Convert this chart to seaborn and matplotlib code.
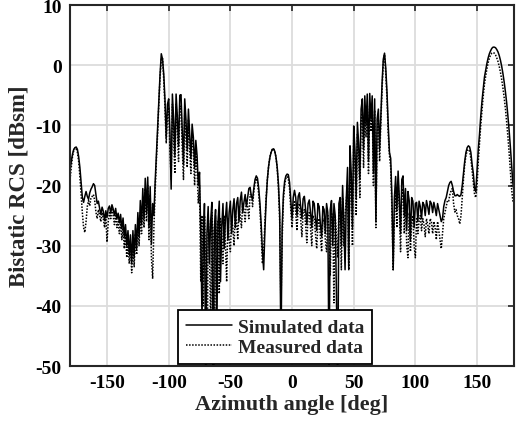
import numpy as np
import pandas as pd
import seaborn as sns
import matplotlib
matplotlib.use('Agg')
import matplotlib.pyplot as plt

# azimuth angle in degrees, 1 deg step
azimuth = list(range(-180, 181))

# simulated bistatic RCS [dBsm]
simulated = [
    -17.5, -16.0, -14.8, -14.0, -13.7, -13.6, -14.0, -15.2, -17.0, -19.5,  # -180
    -22.0, -22.8, -21.8, -21.0, -21.8, -22.3, -21.2, -20.6, -20.2, -19.7,  # -170
    -20.0, -21.5, -23.0, -22.6, -23.8, -24.8, -23.6, -24.3, -25.8, -24.2,  # -160
    -25.3, -23.8, -23.4, -24.6, -23.2, -23.9, -25.0, -23.8, -25.6, -24.6,  # -150
    -26.2, -24.8, -27.2, -25.4, -28.6, -26.5, -30.0, -27.5, -31.5, -28.2,  # -140
    -33.0, -27.5, -32.0, -26.5, -30.5, -24.5, -28.5, -22.5, -26.5, -20.5,  # -130
    -25.5, -18.8, -24.5, -18.6, -27.0, -20.2, -29.7, -23.0, -25.0, -19.5,  # -120
    -15.0, -10.5, -5.6, -1.5, 1.9, 1.0, -1.5, -5.8, -12.0, -6.5,           # -110
    -5.6, -11.0, -20.6, -4.8, -9.0, -15.0, -4.8, -8.5, -13.5, -5.0,        # -100
    -4.9, -11.0, -16.5, -5.6, -9.0, -14.0, -7.3, -11.5, -15.5, -9.8,       # -90
    -12.0, -17.0, -12.5, -15.0, -20.0, -17.8, -28.0, -42.0, -30.0, -23.0,  # -80
    -55.0, -28.0, -23.5, -33.0, -26.0, -22.8, -58.0, -27.5, -24.0, -45.0,  # -70
    -26.0, -22.6, -36.0, -27.0, -23.0, -30.5, -25.5, -22.8, -29.0, -24.5,  # -60
    -22.6, -28.0, -24.0, -22.2, -27.0, -23.0, -22.0, -26.0, -22.5, -21.1,  # -50
    -24.5, -22.8, -21.5, -23.5, -22.0, -20.5, -20.3, -21.8, -22.3, -20.5,  # -40
    -19.0, -18.4, -18.8, -20.5, -23.0, -26.5, -31.0, -34.0, -27.5, -22.5,  # -30
    -19.0, -16.8, -15.4, -14.5, -14.0, -13.9, -14.3, -15.3, -17.0, -19.8,  # -20
    -24.5, -48.0, -27.0, -21.5, -19.3, -18.4, -18.1, -18.2, -19.5, -22.5,  # -10
    -25.5, -22.0, -20.8, -22.0, -25.0, -21.8, -21.2, -23.5, -25.5, -22.2,  # 0
    -21.8, -24.0, -26.5, -23.0, -22.4, -24.5, -27.0, -22.6, -23.0, -25.5,  # 10
    -27.5, -23.0, -23.5, -26.5, -28.5, -23.5, -24.0, -28.0, -23.0, -24.5,  # 20
    -52.0, -24.0, -22.5, -30.0, -23.0, -25.0, -38.0, -55.0, -23.0, -22.0,  # 30
    -30.0, -20.0, -26.0, -34.0, -22.2, -17.0, -34.0, -13.4, -18.0, -27.0,  # 40
    -10.1, -14.0, -22.0, -9.5, -13.0, -19.0, -7.3, -5.6, -14.0, -5.1,      # 50
    -10.0, -4.8, -16.0, -4.7, -9.0, -5.1, -18.0, -5.6, -26.0, -9.0,        # 60
    -7.3, -14.0, -8.4, -3.0, 1.0, 2.0, -0.5, -4.5, -10.0, -14.5,           # 70
    -15.5, -22.0, -34.0, -22.0, -18.5, -24.0, -17.6, -22.0, -28.0, -19.0,  # 80
    -18.4, -25.0, -20.5, -27.5, -21.0, -22.5, -29.0, -22.0, -22.6, -27.0,  # 90
    -23.0, -22.8, -26.0, -22.6, -23.5, -25.5, -22.8, -23.2, -25.0, -22.5,  # 100
    -23.5, -24.8, -22.6, -23.0, -24.5, -22.8, -23.8, -25.0, -23.0, -24.0,  # 110
    -25.0, -26.0, -25.5, -23.5, -22.5, -22.0, -21.0, -20.0, -19.5, -19.3,  # 120
    -20.0, -21.0, -21.7, -21.7, -21.5, -21.7, -21.8, -21.5, -20.0, -18.0,  # 130
    -16.0, -14.5, -13.7, -13.4, -13.6, -14.5, -16.5, -18.0, -20.5, -21.0,  # 140
    -17.5, -14.0, -11.5, -8.5, -6.0, -4.0, -2.0, -0.8, 0.3, 1.2,           # 150
    1.9, 2.4, 2.8, 3.0, 3.0, 2.9, 2.6, 2.2, 1.6, 0.8,                      # 160
    -0.2, -1.4, -2.8, -4.4, -6.2, -8.4, -10.8, -13.5, -16.5, -19.5,        # 170
    -21.0,                                                                 # 180
]

# measured bistatic RCS [dBsm]
measured = [
    -19.0, -17.0, -15.2, -14.2, -13.8, -13.8, -14.5, -16.0, -18.5, -21.5,  # -180
    -24.5, -27.0, -27.8, -26.0, -23.5, -22.5, -23.4, -22.0, -21.8, -21.5,  # -170
    -22.5, -24.4, -25.5, -24.0, -25.0, -26.0, -24.5, -25.5, -27.0, -25.0,  # -160
    -29.4, -26.0, -24.5, -25.5, -24.0, -25.0, -26.5, -25.0, -27.0, -26.0,  # -150
    -28.0, -26.0, -29.0, -27.0, -30.5, -28.0, -32.0, -29.0, -33.0, -30.0,  # -140
    -34.5, -29.0, -33.5, -28.0, -31.5, -26.0, -30.0, -24.5, -28.0, -23.0,  # -130
    -27.0, -20.5, -26.0, -20.0, -29.0, -21.5, -32.0, -35.5, -27.0, -21.0,  # -120
    -16.0, -11.5, -6.5, -2.0, 1.0, 1.2, -2.5, -7.0, -13.0, -8.0,           # -110
    -7.0, -14.0, -19.0, -6.5, -12.0, -18.0, -6.5, -11.0, -16.0, -7.0,      # -100
    -6.8, -14.0, -19.0, -8.0, -12.0, -17.0, -9.0, -14.0, -18.0, -11.5,     # -90
    -14.0, -20.0, -14.5, -17.5, -23.0, -20.0, -36.0, -25.0, -40.0, -25.0,  # -80
    -32.0, -60.0, -25.0, -30.0, -44.0, -24.5, -28.0, -55.0, -25.0, -31.0,  # -70
    -26.0, -38.0, -25.5, -28.0, -33.0, -25.0, -30.0, -36.0, -25.5, -29.0,  # -60
    -31.0, -25.5, -27.0, -30.0, -24.5, -26.0, -29.0, -23.5, -25.0, -27.0,  # -50
    -23.0, -24.0, -26.0, -22.5, -23.5, -25.5, -21.5, -21.5, -23.5, -21.0,  # -40
    -19.5, -18.8, -19.5, -21.5, -24.0, -28.0, -33.0, -31.0, -26.0, -22.0,  # -30
    -19.0, -16.8, -15.3, -14.5, -14.0, -13.9, -14.3, -15.3, -17.2, -20.5,  # -20
    -26.0, -40.0, -29.0, -22.5, -20.0, -18.8, -18.5, -19.0, -20.5, -24.0,  # -10
    -27.0, -24.0, -22.5, -24.5, -27.5, -23.5, -23.0, -25.5, -28.5, -24.5,  # 0
    -24.0, -26.5, -29.5, -25.0, -24.5, -27.0, -30.0, -25.0, -25.5, -28.0,  # 10
    -30.5, -26.4, -25.5, -28.5, -31.0, -25.5, -26.0, -29.0, -31.0, -25.0,  # 20
    -27.0, -35.0, -24.5, -26.0, -39.5, -25.0, -28.0, -32.0, -24.0, -26.0,  # 30
    -34.0, -22.0, -30.0, -25.0, -22.5, -20.0, -34.0, -16.0, -22.0, -30.0,  # 40
    -12.5, -16.0, -25.0, -11.5, -15.0, -22.0, -9.0, -8.0, -17.0, -7.0,     # 50
    -12.0, -6.8, -18.0, -6.5, -11.0, -7.0, -20.0, -7.5, -27.0, -11.0,      # 60
    -9.0, -16.0, -9.5, -4.0, 0.5, 1.8, -1.5, -5.5, -11.5, -15.0,           # 70
    -17.0, -24.0, -34.0, -25.0, -21.0, -27.0, -19.5, -24.0, -31.0, -21.5,  # 80
    -20.5, -28.0, -23.0, -30.0, -32.0, -24.5, -31.0, -26.0, -25.0, -30.0,  # 90
    -32.0, -25.5, -28.0, -26.0, -25.0, -27.5, -25.5, -26.5, -28.5, -25.5,  # 100
    -26.5, -28.0, -25.5, -26.0, -28.0, -26.0, -27.0, -29.0, -26.0, -27.5,  # 110
    -29.0, -30.5, -28.0, -25.5, -24.5, -23.5, -22.5, -22.6, -21.5, -20.8,  # 120
    -20.5, -23.0, -24.4, -24.0, -25.0, -25.5, -26.4, -25.0, -22.0, -19.0,  # 130
    -16.5, -15.0, -14.2, -14.0, -14.3, -15.5, -17.5, -19.5, -21.5, -22.0,  # 140
    -20.0, -16.0, -13.0, -10.0, -7.5, -5.2, -3.2, -1.8, -0.6, 0.4,         # 150
    1.2, 1.7, 2.0, 2.1, 2.0, 1.7, 1.2, 0.6, -0.2, -1.2,                    # 160
    -2.4, -3.8, -5.4, -7.2, -9.4, -11.8, -14.5, -17.5, -20.5, -22.5,       # 170
    -23.0,                                                                 # 180
]

x_ticks = [-150, -100, -50, 0, 50, 100, 150]
y_ticks = [-50, -40, -30, -20, -10, 0, 10]

data = pd.DataFrame({'Azimuth': azimuth, 'Simulated': simulated, 'Measured': measured})

sns.set_style('white')
plt.rcParams['font.family'] = ['Liberation Serif', 'DejaVu Serif']
plt.rcParams['font.weight'] = 'bold'
plt.rcParams['axes.unicode_minus'] = False

fig = plt.figure(figsize=(5.16, 4.27), dpi=100)
ax = fig.add_axes([0.1357, 0.1405, 0.8605, 0.8454])

sns.lineplot(data=data, x='Azimuth', y='Simulated', ax=ax, color='black',
             linewidth=1.1, label='Simulated data')
sns.lineplot(data=data, x='Azimuth', y='Measured', ax=ax, color='black',
             linewidth=1.1, linestyle=(0, (1, 1)), label='Measured data')

ax.set_xlim(-180, 180)
ax.set_ylim(-50, 10)
ax.set_xticks(x_ticks)
ax.set_yticks(y_ticks)
ax.grid(True, color='#dcdcdc', linewidth=1.3)
ax.set_axisbelow(True)
ax.tick_params(direction='in', length=4, width=1.2, top=True, right=True,
               labelsize=14, colors='#262626', labelcolor='black', pad=6)
for lab in ax.get_xticklabels() + ax.get_yticklabels():
    lab.set_fontweight('bold')
for sp in ax.spines.values():
    sp.set_linewidth(1.5)
    sp.set_color('#262626')

ax.set_xlabel('Azimuth angle [deg]', fontsize=16, fontweight='bold', labelpad=2)
ax.set_ylabel('Bistatic RCS [dBsm]', fontsize=16.5, fontweight='bold', labelpad=4)

leg = ax.legend(loc='lower left', bbox_to_anchor=(0.243, 0.006), fontsize=14,
                frameon=True, fancybox=False, framealpha=1, edgecolor='black',
                handlelength=2.4, handletextpad=0.3, borderpad=0.4,
                labelspacing=0.15, borderaxespad=0)
leg.get_frame().set_linewidth(1.3)
for t in leg.get_texts():
    t.set_fontweight('bold')

fig.savefig('out.png', dpi=100)
